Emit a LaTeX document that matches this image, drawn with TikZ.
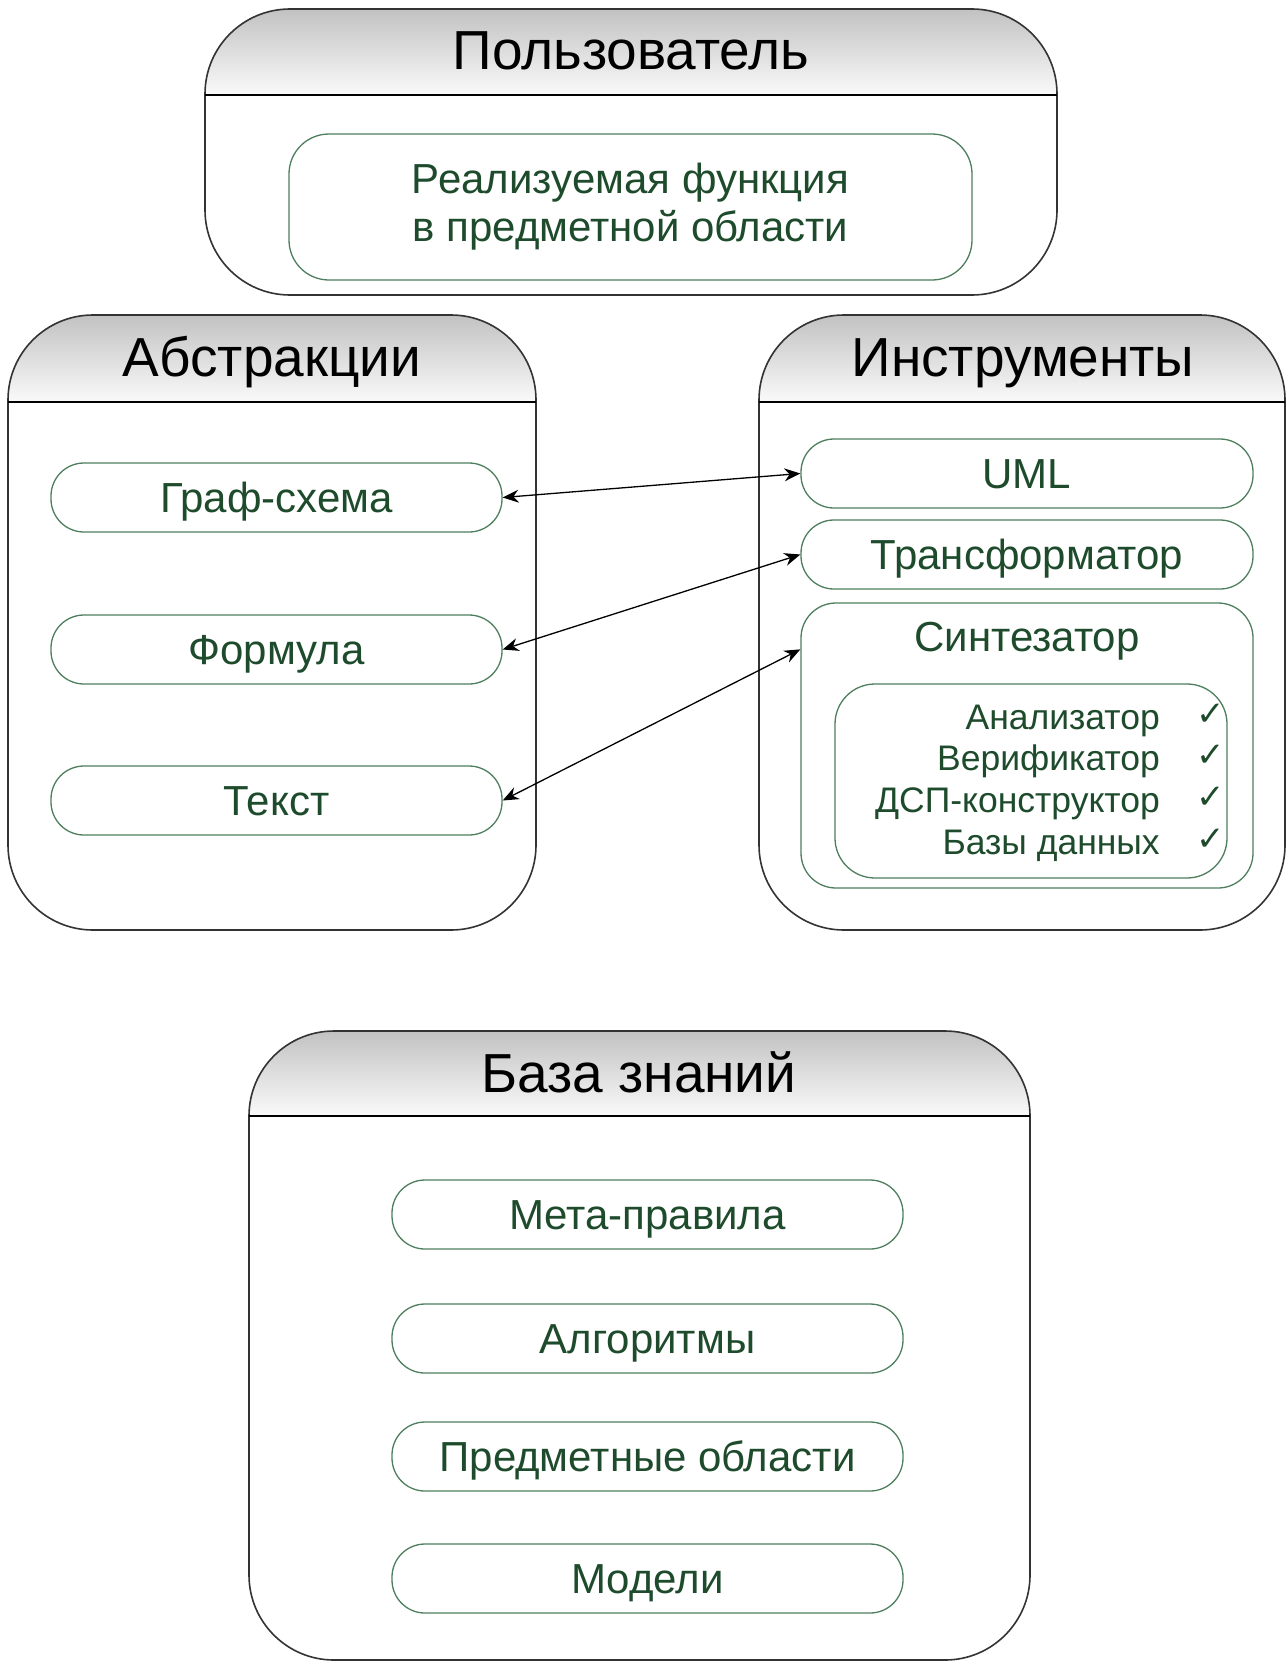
\documentclass[tikz,border=0pt]{standalone}
\usepackage{fontspec}
\setmainfont{Liberation Sans}
\newfontfamily\dejavu{DejaVu Sans}
\usetikzlibrary{arrows.meta,calc}
\definecolor{gtext}{HTML}{1E4B2C}
\definecolor{gline}{HTML}{4E7E5E}
\definecolor{boxline}{HTML}{333333}
\tikzset{
  gbox/.style={draw=gline, line width=1.3pt, fill=white, text=gtext,
    font=\fontsize{42}{48}\selectfont, inner sep=0pt},
  pill/.style={gbox, rounded corners=33pt, minimum height=69pt, text height=30pt, text depth=0pt},
  hdr/.style={font=\fontsize{55}{62}\selectfont, text=black, inner sep=0pt, text height=39.4pt, text depth=0pt},
  item/.style={text=gtext, font=\fontsize{35.5}{40}\selectfont, inner sep=0pt, anchor=east, text height=25.4pt, text depth=0pt},
  chk/.style={text=gtext, font=\dejavu\fontsize{34}{40}\selectfont, inner sep=0pt},
  link/.style={{Stealth[length=16pt,width=13pt]}-{Stealth[length=16pt,width=13pt]}, line width=1.3pt, black}
}
\newcommand\container[6]{%
  \begin{scope}
    \clip[rounded corners=#6] (#1,#2) rectangle (#3,#4);
    \fill[white] (#1,#2) rectangle (#3,#4);
    \shade[top color=black!24, bottom color=black!2] (#1,#2) rectangle (#3,#5);
  \end{scope}
  \draw[boxline, line width=1.6pt, rounded corners=#6] (#1,#2) rectangle (#3,#4);
  \draw[black, line width=2.2pt] (#1,#5) -- (#3,#5);
}
\begin{document}
\begin{tikzpicture}[x=1pt,y=-1pt]
\useasboundingbox[fill=white] (0,0) rectangle (1287,1662);

% ---- User ----
\container{205}{9}{1057}{295}{95}{85pt}
\node[hdr] (userT) at (631,50) {Пользователь};
\node[gbox, rounded corners=40pt, minimum width=683pt, minimum height=146pt, align=center] (func) at (630.5,207) {Реализуемая функция\\в предметной области};

% ---- Abstractions ----
\container{8}{315}{536}{930}{402}{85pt}
\node[hdr] (absT) at (272,357) {Абстракции};
\node[pill, minimum width=451pt] (graf) at (276.5,497.5) {Граф-схема};
\node[pill, minimum width=451pt] (form) at (276.5,649.5) {Формула};
\node[pill, minimum width=451pt] (text) at (276.5,800.5) {Текст};

% ---- Tools ----
\container{759}{315}{1285}{930}{402}{85pt}
\node[hdr] (toolT) at (1023,357) {Инструменты};
\node[pill, minimum width=452pt] (uml) at (1027,473.5) {UML};
\node[pill, minimum width=452pt] (trans) at (1027,554.5) {Трансформатор};
\node[gbox, rounded corners=35pt, minimum width=452pt, minimum height=285pt] (synth) at (1027,745.5) {};
\node[text=gtext, font=\fontsize{42}{48}\selectfont, inner sep=0pt, text height=30pt, text depth=0pt] (synthT) at (1027,636) {Синтезатор};
\node[gbox, rounded corners=40pt, minimum width=392pt, minimum height=194pt] (sub) at (1031,781) {};
\node[item] (i1) at (1160,717) {Анализатор};
\node[item] (i2) at (1160,758) {Верификатор};
\node[item] (i3) at (1160,800) {ДСП-конструктор};
\node[item] (i4) at (1160,842) {Базы данных};
\node[chk] (c1) at (1211,715) {✓};
\node[chk] (c2) at (1211,756) {✓};
\node[chk] (c3) at (1211,798) {✓};
\node[chk] (c4) at (1211,840) {✓};

% ---- Knowledge base ----
\container{249}{1031}{1030}{1660}{1116}{85pt}
\node[hdr] (kbT) at (639,1073) {База знаний};
\node[pill, minimum width=511pt] (meta) at (647.5,1214.5) {Мета-правила};
\node[pill, minimum width=511pt] (alg) at (647.5,1338.5) {Алгоритмы};
\node[pill, minimum width=511pt] (dom) at (647.5,1456.5) {Предметные области};
\node[pill, minimum width=511pt] (mod) at (647.5,1578.5) {Модели};

% ---- connectors ----
\coordinate (synthIn) at ($(synth.north west)+(0,47)$);
\draw[link] (graf.east) -- (uml.west);
\draw[link] (form.east) -- (trans.west);
\draw[link] (text.east) -- (synthIn);
\end{tikzpicture}
\end{document}
